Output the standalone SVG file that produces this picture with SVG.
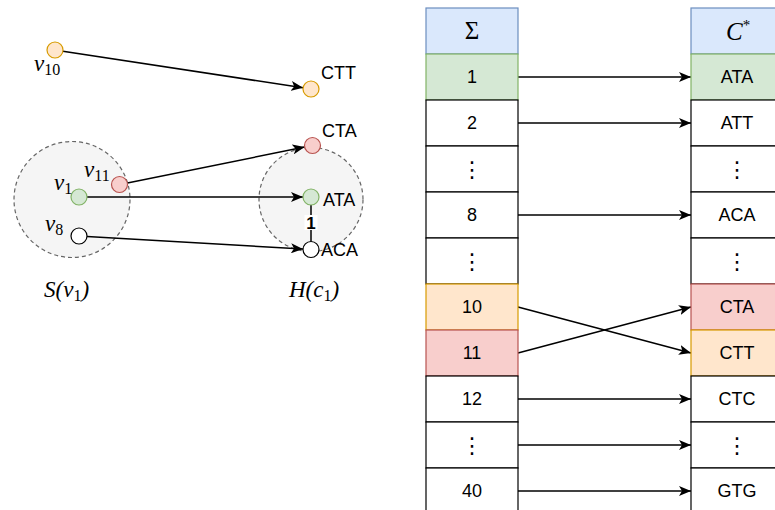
<svg xmlns="http://www.w3.org/2000/svg" width="775" height="510" viewBox="0 0 775 510">
<defs>
<marker id="arr" viewBox="0 0 12 10" refX="12" refY="5" markerWidth="12" markerHeight="10" markerUnits="userSpaceOnUse" orient="auto">
<path d="M0,0 L12,5 L0,10 L3,5 Z" fill="#000"/>
</marker>
</defs>
<style>
.lbl{font-family:"Liberation Sans",Arial,sans-serif;font-size:18px;fill:#000}
.cell{font-family:"Liberation Sans",Arial,sans-serif;font-size:18px;fill:#000;text-anchor:middle}
.dots{font-family:"DejaVu Sans",sans-serif;font-size:22px;fill:#000;text-anchor:middle}
.math{font-family:"Liberation Serif","Times New Roman",serif;font-size:23px;font-style:italic;fill:#000}
.sub{font-style:normal;font-size:16px}
.edge{stroke:#000;stroke-width:1.5;fill:none;marker-end:url(#arr)}
.plain{stroke:#000;stroke-width:1.5;fill:none}
.grp{fill:#f5f5f5;stroke:#666;stroke-width:1.2;stroke-dasharray:4 3}
.w{fill:#fff;stroke:#000;stroke-width:1.2}
.o{fill:#ffe6cc;stroke:#d79b00;stroke-width:1.2}
.r{fill:#f8cecc;stroke:#b85450;stroke-width:1.2}
.g{fill:#d5e8d4;stroke:#82b366;stroke-width:1.2}
.b{fill:#dae8fc;stroke:#6c8ebf;stroke-width:1.2}
.hd{font-family:"Liberation Serif","Times New Roman",serif;fill:#000}
</style>

<g id="group-S">
<circle class="grp" cx="72" cy="199.5" r="58"/>
<text class="math" x="44" y="297">S(v<tspan class="sub" dy="4">1</tspan><tspan dy="-4">)</tspan></text>
</g>
<g id="group-H">
<circle class="grp" cx="311" cy="199.5" r="52"/>
<text class="math" x="289" y="297">H(c<tspan class="sub" dy="4">1</tspan><tspan dy="-4">)</tspan></text>
</g>

<g id="connectors">
<line class="edge" x1="62.9" y1="51.2" x2="303.1" y2="87.8"/>
<line class="edge" x1="127.4" y1="182.9" x2="304.6" y2="147.1"/>
<line class="edge" x1="87" y1="197" x2="303" y2="197"/>
<line class="edge" x1="87" y1="236.5" x2="303" y2="249"/>
<line class="plain" x1="311" y1="205" x2="311" y2="241.5"/>
<rect x="304.5" y="215" width="13" height="15" fill="#fff"/>
<text x="311" y="228.5" text-anchor="middle" font-family="Liberation Sans,Arial,sans-serif" font-size="17" font-weight="bold">1</text>
<line class="edge" x1="518" y1="77" x2="691" y2="77"/>
<line class="edge" x1="518" y1="123" x2="691" y2="123"/>
<line class="edge" x1="518" y1="215" x2="691" y2="215"/>
<line class="edge" x1="518" y1="307" x2="691" y2="353"/>
<line class="edge" x1="518" y1="353" x2="691" y2="307"/>
<line class="edge" x1="518" y1="399" x2="691" y2="399"/>
<line class="edge" x1="518" y1="445" x2="691" y2="445"/>
<line class="edge" x1="518" y1="491" x2="691" y2="491"/>
</g>

<g id="v10"><circle class="o" cx="55" cy="50" r="8"/><text class="math" x="34" y="71">v<tspan class="sub" dy="4">10</tspan></text></g>
<g id="v11"><circle class="r" cx="119.5" cy="184.5" r="8"/><text class="math" x="84" y="177">v<tspan class="sub" dy="4">11</tspan></text></g>
<g id="v1"><circle class="g" cx="79" cy="197" r="8"/><text class="math" x="54" y="190">v<tspan class="sub" dy="4">1</tspan></text></g>
<g id="v8"><circle class="w" cx="79" cy="236" r="8"/><text class="math" x="45" y="231">v<tspan class="sub" dy="4">8</tspan></text></g>
<g id="CTT"><circle class="o" cx="311" cy="89" r="8"/><text class="lbl" x="321" y="79">CTT</text></g>
<g id="CTA"><circle class="r" cx="312.5" cy="145.5" r="8"/><text class="lbl" x="322" y="137">CTA</text></g>
<g id="ATA"><circle class="g" cx="311" cy="197" r="8"/><text class="lbl" x="323" y="206">ATA</text></g>
<g id="ACA"><circle class="w" cx="311" cy="249.5" r="8"/><text class="lbl" x="321" y="256">ACA</text></g>

<g id="sigma-table">
<g id="s-head"><rect class="b" x="426" y="8" width="92" height="46"/><text class="hd" x="472" y="39" text-anchor="middle" font-size="25">Σ</text></g>
<g id="s-1"><rect class="g" x="426" y="54" width="92" height="46"/><text class="cell" x="472" y="83">1</text></g>
<g id="s-2"><rect class="w" x="426" y="100" width="92" height="46"/><text class="cell" x="472" y="129">2</text></g>
<g id="s-d1"><rect class="w" x="426" y="146" width="92" height="46"/><text class="dots" x="472" y="177">⋮</text></g>
<g id="s-8"><rect class="w" x="426" y="192" width="92" height="46"/><text class="cell" x="472" y="221">8</text></g>
<g id="s-d2"><rect class="w" x="426" y="238" width="92" height="46"/><text class="dots" x="472" y="269">⋮</text></g>
<g id="s-10"><rect class="o" x="426" y="284" width="92" height="46"/><text class="cell" x="472" y="313">10</text></g>
<g id="s-11"><rect class="r" x="426" y="330" width="92" height="46"/><text class="cell" x="472" y="359">11</text></g>
<g id="s-12"><rect class="w" x="426" y="376" width="92" height="46"/><text class="cell" x="472" y="405">12</text></g>
<g id="s-d3"><rect class="w" x="426" y="422" width="92" height="46"/><text class="dots" x="472" y="453">⋮</text></g>
<g id="s-40"><rect class="w" x="426" y="468" width="92" height="46"/><text class="cell" x="472" y="497">40</text></g>
</g>

<g id="c-table">
<g id="c-head"><rect class="b" x="691" y="8" width="92" height="46"/><text class="hd" x="726" y="40" font-size="25" font-style="italic">C<tspan font-size="15" dy="-10" font-style="normal">*</tspan></text></g>
<g id="c-ATA"><rect class="g" x="691" y="54" width="92" height="46"/><text class="cell" x="737" y="83">ATA</text></g>
<g id="c-ATT"><rect class="w" x="691" y="100" width="92" height="46"/><text class="cell" x="737" y="129">ATT</text></g>
<g id="c-d1"><rect class="w" x="691" y="146" width="92" height="46"/><text class="dots" x="737" y="177">⋮</text></g>
<g id="c-ACA"><rect class="w" x="691" y="192" width="92" height="46"/><text class="cell" x="737" y="221">ACA</text></g>
<g id="c-d2"><rect class="w" x="691" y="238" width="92" height="46"/><text class="dots" x="737" y="269">⋮</text></g>
<g id="c-CTA"><rect class="r" x="691" y="284" width="92" height="46"/><text class="cell" x="737" y="313">CTA</text></g>
<g id="c-CTT"><rect class="o" x="691" y="330" width="92" height="46"/><text class="cell" x="737" y="359">CTT</text></g>
<g id="c-CTC"><rect class="w" x="691" y="376" width="92" height="46"/><text class="cell" x="737" y="405">CTC</text></g>
<g id="c-d3"><rect class="w" x="691" y="422" width="92" height="46"/><text class="dots" x="737" y="453">⋮</text></g>
<g id="c-GTG"><rect class="w" x="691" y="468" width="92" height="46"/><text class="cell" x="737" y="497">GTG</text></g>
</g>
</svg>
